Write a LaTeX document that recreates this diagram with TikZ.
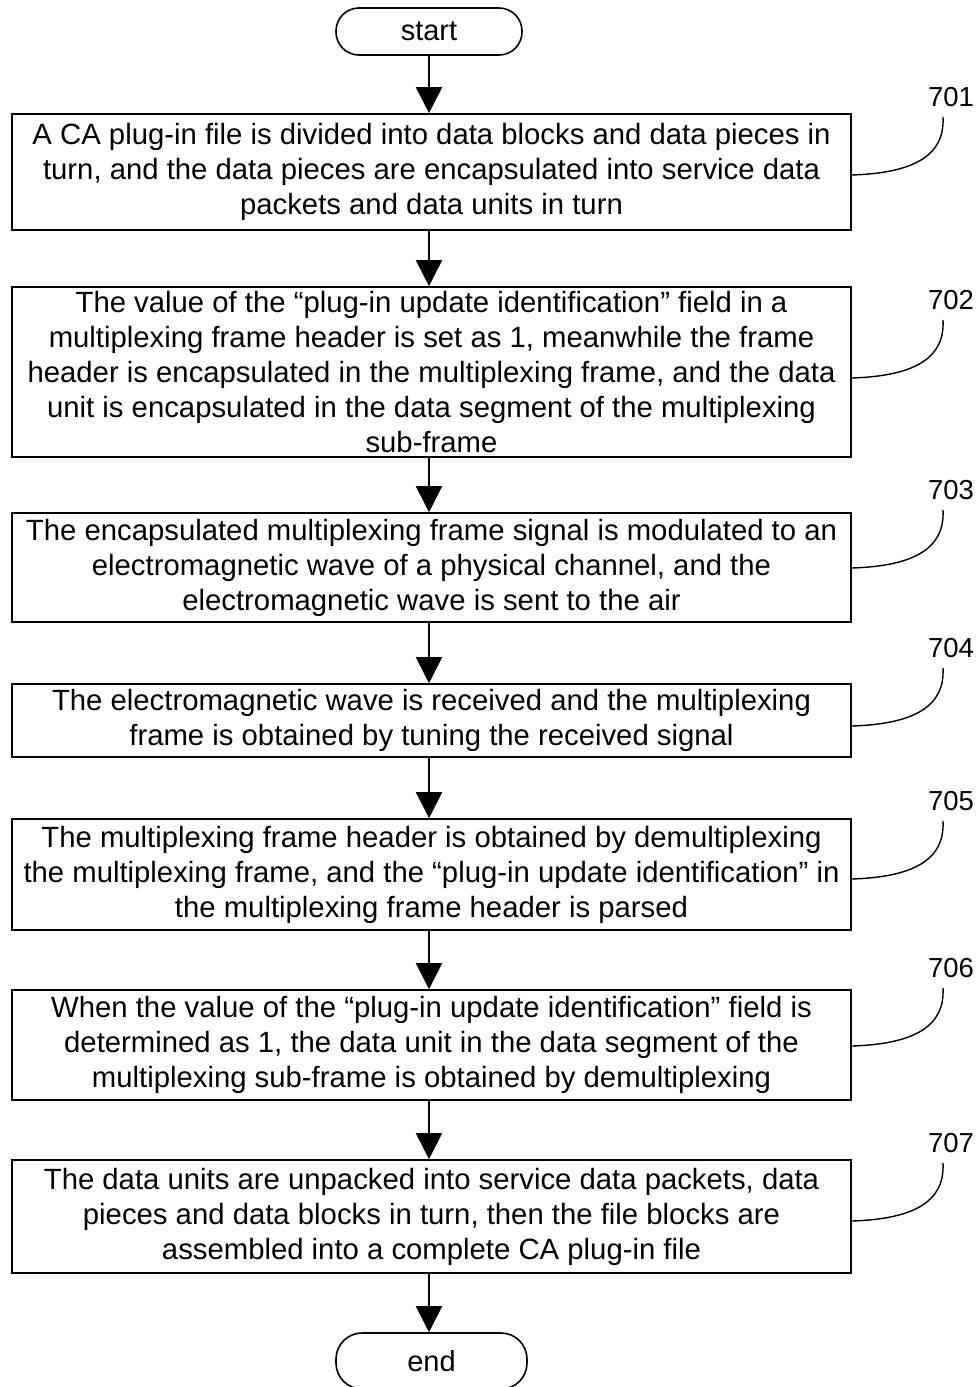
\documentclass[tikz,border=0pt]{standalone}
\usepackage{fontspec}
\setmainfont{Liberation Sans}
\usetikzlibrary{arrows.meta}
\tikzset{
  stepbox/.style={draw, line width=1.6pt, minimum width=839pt, align=center, inner sep=0pt,
    font=\fontsize{29.3pt}{35pt}\selectfont},
  term/.style={draw, line width=1.6pt, rounded corners=23pt, minimum width=186pt, minimum height=47pt,
    inner sep=0pt, font=\fontsize{29pt}{35pt}\selectfont},
  flow/.style={line width=1.8pt, -{Triangle[length=26pt,width=26pt]}},
  lead/.style={line width=1.4pt},
  lab/.style={font=\fontsize{27.5pt}{30pt}\selectfont, inner sep=0pt}
}
\begin{document}
\begin{tikzpicture}[x=1pt,y=-1pt]
\useasboundingbox (0,0) rectangle (980,1387);
\begin{scope}
\clip (0,0) rectangle (980,1387);
\node[term] (start) at (429,31.5) {start};
\node[stepbox, minimum height=116pt] (b1) at (431.5,172) {A CA plug-in file is divided into data blocks and data pieces in\\turn, and the data pieces are encapsulated into service data\\packets and data units in turn};
\node[stepbox, minimum height=170pt] (b2) at (431.5,372) {The value of the ``plug-in update identification'' field in a\\multiplexing frame header is set as 1, meanwhile the frame\\header is encapsulated in the multiplexing frame, and the data\\unit is encapsulated in the data segment of the multiplexing\\sub-frame};
\node[stepbox, minimum height=109pt] (b3) at (431.5,567.5) {The encapsulated multiplexing frame signal is modulated to an\\electromagnetic wave of a physical channel, and the\\electromagnetic wave is sent to the air};
\node[stepbox, minimum height=73pt] (b4) at (431.5,720.5) {The electromagnetic wave is received and the multiplexing\\frame is obtained by tuning the received signal};
\node[stepbox, minimum height=111pt] (b5) at (431.5,874.5) {The multiplexing frame header is obtained by demultiplexing\\the multiplexing frame, and the ``plug-in update identification'' in\\the multiplexing frame header is parsed};
\node[stepbox, minimum height=110pt] (b6) at (431.5,1045) {When the value of the ``plug-in update identification'' field is\\determined as 1, the data unit in the data segment of the\\multiplexing sub-frame is obtained by demultiplexing};
\node[stepbox, minimum height=113pt] (b7) at (431.5,1216.5) {The data units are unpacked into service data packets, data\\pieces and data blocks in turn, then the file blocks are\\assembled into a complete CA plug-in file};
\node[term, minimum width=191pt, minimum height=56pt, rounded corners=26pt] (end) at (431.5,1361) {end};
\end{scope}

\draw[flow] (start.south) -- (start.south |- b1.north);
\draw[flow] (b1.south -| start.south) -- (start.south |- b2.north);
\draw[flow] (b2.south -| start.south) -- (start.south |- b3.north);
\draw[flow] (b3.south -| start.south) -- (start.south |- b4.north);
\draw[flow] (b4.south -| start.south) -- (start.south |- b5.north);
\draw[flow] (b5.south -| start.south) -- (start.south |- b6.north);
\draw[flow] (b6.south -| start.south) -- (start.south |- b7.north);
\draw[flow] (b7.south -| start.south) -- (start.south |- end.north);

\foreach \n/\y/\t in {1/97/701, 2/300/702, 3/490/703, 4/648/704, 5/801/705, 6/968/706, 7/1143/707}{
  \node[lab] (l\n) at (951,\y) {\t};
  \coordinate (e\n) at (943,\y+20);
  \draw[lead] (b\n.east |- 0,\y+78) .. controls (915,\y+76) and (945,\y+58) .. (e\n);
}
\end{tikzpicture}
\end{document}
